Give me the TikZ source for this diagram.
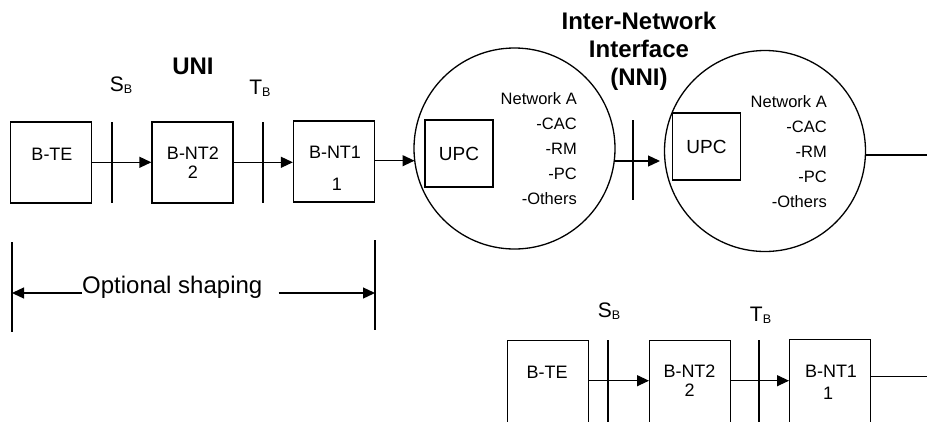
\documentclass[tikz,border=0pt]{standalone}
\usepackage{fontspec}
\setmainfont{Liberation Sans}
\usetikzlibrary{arrows.meta}
\begin{document}
\begin{tikzpicture}[x=1pt,y=-1pt,
  box/.style={draw, line width=1.3pt, minimum width=81pt, minimum height=81pt, inner sep=0pt},
  tallbox/.style={box, minimum height=88pt},
  upcbox/.style={draw, line width=1.3pt, minimum width=68pt, minimum height=67pt, inner sep=0pt, font=\fontsize{19}{20}\selectfont},
  netcircle/.style={draw, circle, line width=1.3pt, minimum size=201pt, inner sep=0pt},
  blbl/.style={font=\fontsize{18}{20}\selectfont, inner sep=0pt},
  iface/.style={font=\fontsize{21}{22}\selectfont, inner sep=0pt},
  head/.style={font=\bfseries\fontsize{24}{28}\selectfont, align=center, inner sep=0pt},
  netlist/.style={font=\fontsize{16.5}{25}\selectfont, align=right, inner sep=0pt, anchor=east},
  conn/.style={line width=1.3pt},
  arr/.style={conn, -{Triangle[length=12pt,width=11pt]}},
  tick/.style={line width=1.3pt}
]
\useasboundingbox (0,0) rectangle (927,421);

% ---------- top row (UNI) ----------
\node[box] (bte1) at (51,162.5) {};
\node[blbl] (bte1t) at (52,154) {B-TE};
\node[box] (bnt2a) at (192.5,162.5) {};
\node[blbl] (bnt2at) at (193,153) {B-NT2};
\node[blbl] (bnt2an) at (193,172) {2};
\node[box] (bnt1a) at (334,161.5) {};
\node[blbl] (bnt1at) at (335,152.5) {B-NT1};
\node[blbl] (bnt1an) at (337,184) {1};

\draw[tick] (112,122) -- (112,203);
\draw[tick] (263,122) -- (263,203);
\node[iface] (sb1) at (121,85.5) {S\raisebox{-2pt}{\fontsize{12.5}{12}\selectfont B}};
\node[iface] (tb1) at (260,88.5) {T\raisebox{-2pt}{\fontsize{12.5}{12}\selectfont B}};
\node[head] (uni) at (193,66) {UNI};

\draw[arr] (bte1.east |- 0,162.3) -- (bnt2a.west |- 0,162.3);
\draw[arr] (bnt2a.east |- 0,162.3) -- (bnt1a.west |- 0,162.3);

% ---------- networks ----------
\node[netcircle] (c1) at (514.5,148.5) {};
\node[upcbox] (upc1) at (459,153.5) {UPC};
\node[netlist] (net1) at (577,148.5) {Network A\\-CAC\\-RM\\-PC\\-Others};

\node[netcircle] (c2) at (765,151) {};
\node[upcbox] (upc2) at (706.5,146.5) {UPC};
\node[netlist] (net2) at (827,152) {Network A\\-CAC\\-RM\\-PC\\-Others};

\coordinate (in1) at (414.5,160.7);
\draw[arr] (bnt1a.east |- in1) -- (in1);

\coordinate (nniEnd) at (660,161);
\draw[arr] (614.5,161) -- (nniEnd);
\draw[tick] (633,120) -- (633,200);
\node[head, anchor=north] (nni) at (639,12) {Inter-Network\\Interface\\(NNI)};

\coordinate (out2) at (927,155);
\draw[conn] (out2 -| c2.east) -- (out2);

% ---------- optional shaping ----------
\draw[tick] (12,242) -- (12,332);
\draw[tick] (375,240) -- (375,330);
\coordinate (optL) at (12,293);
\coordinate (optR) at (375,293);
\node[font=\fontsize{24}{26}\selectfont, inner sep=0pt, anchor=base west] (opt) at (82,293) {Optional shaping};
\draw[arr] (opt.base west) -- (optL);
\draw[arr] ([xshift=16pt]opt.base east) -- (optR);

% ---------- bottom row ----------
\node[tallbox, anchor=north west] (bte2) at (507,340) {};
\node[blbl] (bte2t) at (547,372.5) {B-TE};
\node[tallbox, anchor=north west] (bnt2b) at (649,340) {};
\node[blbl] (bnt2bt) at (689.5,371) {B-NT2};
\node[blbl] (bnt2bn) at (689.5,390) {2};
\node[tallbox, anchor=north west] (bnt1b) at (789,339) {};
\node[blbl] (bnt1bt) at (831,371) {B-NT1};
\node[blbl] (bnt1bn) at (828,393) {1};

\draw[tick] (608,340) -- (608,430);
\draw[tick] (759,340) -- (759,430);
\node[iface] (sb2) at (609,311) {S\raisebox{-2pt}{\fontsize{12.5}{12}\selectfont B}};
\node[iface] (tb2) at (760.5,315) {T\raisebox{-2pt}{\fontsize{12.5}{12}\selectfont B}};

\coordinate (row2) at (0,380.7);
\draw[arr] (bte2.east |- row2) -- (bnt2b.west |- row2);
\draw[arr] (bnt2b.east |- row2) -- (bnt1b.west |- row2);
\coordinate (out3) at (927,376.7);
\draw[conn] (bnt1b.east |- out3) -- (out3);
\end{tikzpicture}
\end{document}
